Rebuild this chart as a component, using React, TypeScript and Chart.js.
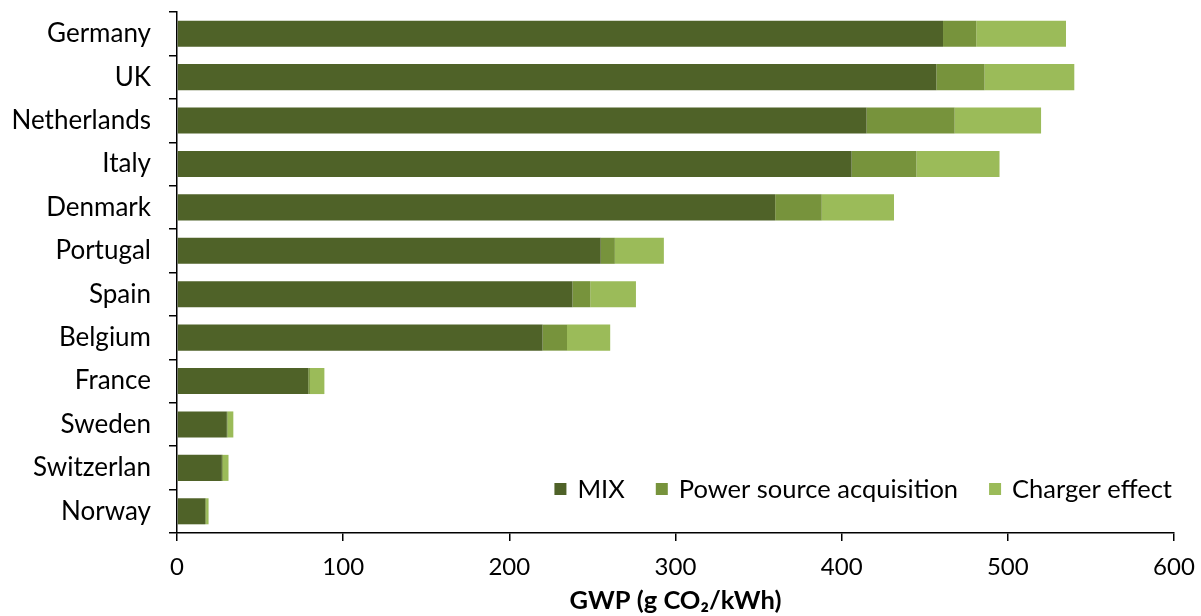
import React, { useEffect, useRef } from "react";
import { Chart, registerables } from "chart.js";

Chart.register(...registerables);

const countries = ["Germany", "UK", "Netherlands", "Italy", "Denmark", "Portugal", "Spain", "Belgium", "France", "Sweden", "Switzerlan", "Norway"];
const mixValues = [461, 457, 415, 406, 360, 255, 238, 220, 79, 30, 27, 17];
const powerSourceValues = [20, 29, 53, 39, 28, 8.5, 10.7, 14.7, 1, 0.5, 0.6, 0.5];
const chargerValues = [54, 54, 52, 50, 43.5, 29.5, 27.5, 26, 8.7, 3.4, 3.4, 1.5];
const seriesLabels = ["MIX", "Power source acquisition", "Charger effect"];
const seriesColors = ["#4F6228", "#77933C", "#9BBB59"];
const xTicks = [0, 100, 200, 300, 400, 500, 600];

const FONT = "Lato, 'Open Sans', sans-serif";

const legendPlugin = {
  id: "insideLegend",
  afterDraw(chart: any) {
    const ctx = chart.ctx;
    const area = chart.chartArea;
    ctx.save();
    ctx.font = `25.5px ${FONT}`;
    ctx.textBaseline = "middle";
    ctx.textAlign = "left";
    const y = 489;
    const box = 12;
    const gapBoxText = 11;
    const gapItems = 31;
    const items = chart.data.datasets.map((d: any) => ({ label: d.label, color: d.backgroundColor }));
    let total = 0;
    const widths = items.map((it: any) => ctx.measureText(it.label).width);
    items.forEach((_: any, i: number) => {
      total += box + gapBoxText + widths[i];
      if (i < items.length - 1) total += gapItems;
    });
    let x = area.right - 2 - total;
    items.forEach((it: any, i: number) => {
      ctx.fillStyle = it.color;
      ctx.fillRect(x, y - box / 2, box, box);
      x += box + gapBoxText;
      ctx.fillStyle = "#000";
      ctx.fillText(it.label, x, y + 1);
      x += widths[i] + gapItems;
    });
    ctx.restore();
  },
};

export default function App() {
  const ref = useRef<HTMLCanvasElement | null>(null);
  useEffect(() => {
    document.body.style.margin = "0";
    const canvas = ref.current!;
    const values = [mixValues, powerSourceValues, chargerValues];
    const chart = new Chart(canvas, {
      type: "bar",
      data: {
        labels: countries,
        datasets: seriesLabels.map((label, i) => ({
          label,
          data: values[i],
          backgroundColor: seriesColors[i],
          borderWidth: 0,
          categoryPercentage: 1,
          barPercentage: 0.6,
        })),
      },
      plugins: [legendPlugin],
      options: {
        indexAxis: "y",
        animation: false,
        responsive: false,
        maintainAspectRatio: false,
        layout: { padding: { top: 12, right: 27, left: 0, bottom: 0 } },
        plugins: {
          legend: { display: false },
          tooltip: { enabled: false },
        },
        scales: {
          x: {
            stacked: true,
            min: 0,
            max: 600,
            afterBuildTicks: (scale: any) => {
              scale.ticks = xTicks.map((v) => ({ value: v }));
            },
            afterFit: (scale: any) => {
              scale.height = 83;
              scale.paddingRight = 0;
              scale.paddingLeft = 0;
            },
            grid: {
              drawOnChartArea: false,
              drawTicks: true,
              tickLength: 8,
              color: "#000",
              lineWidth: 1.5,
            },
            border: { display: true, color: "#000", width: 1.5 },
            ticks: {
              color: "#000",
              font: { family: FONT, size: 24 },
              padding: 12,
            },
            title: {
              display: true,
              text: "GWP (g CO₂/kWh)",
              color: "#000",
              font: { family: FONT, size: 25.5, weight: "bold" },
              padding: { top: 0, bottom: 0 },
            },
          },
          y: {
            stacked: true,
            afterFit: (scale: any) => {
              scale.width = 177;
              scale.paddingTop = 0;
              scale.paddingBottom = 0;
            },
            grid: {
              drawOnChartArea: false,
              drawTicks: true,
              tickLength: 8,
              offset: true,
              color: "#000",
              lineWidth: 1.5,
            },
            border: { display: true, color: "#000", width: 1.5 },
            ticks: {
              color: "#000",
              font: { family: FONT, size: 26 },
              padding: 18,
              autoSkip: false,
            },
          },
        },
      },
    });
    return () => chart.destroy();
  }, []);
  return (
    <div style={{ position: "absolute", left: 0, top: 0, width: 1201, height: 616, background: "#fff" }}>
      <canvas ref={ref} width={1201} height={616} style={{ width: 1201, height: 616 }} />
    </div>
  );
}
